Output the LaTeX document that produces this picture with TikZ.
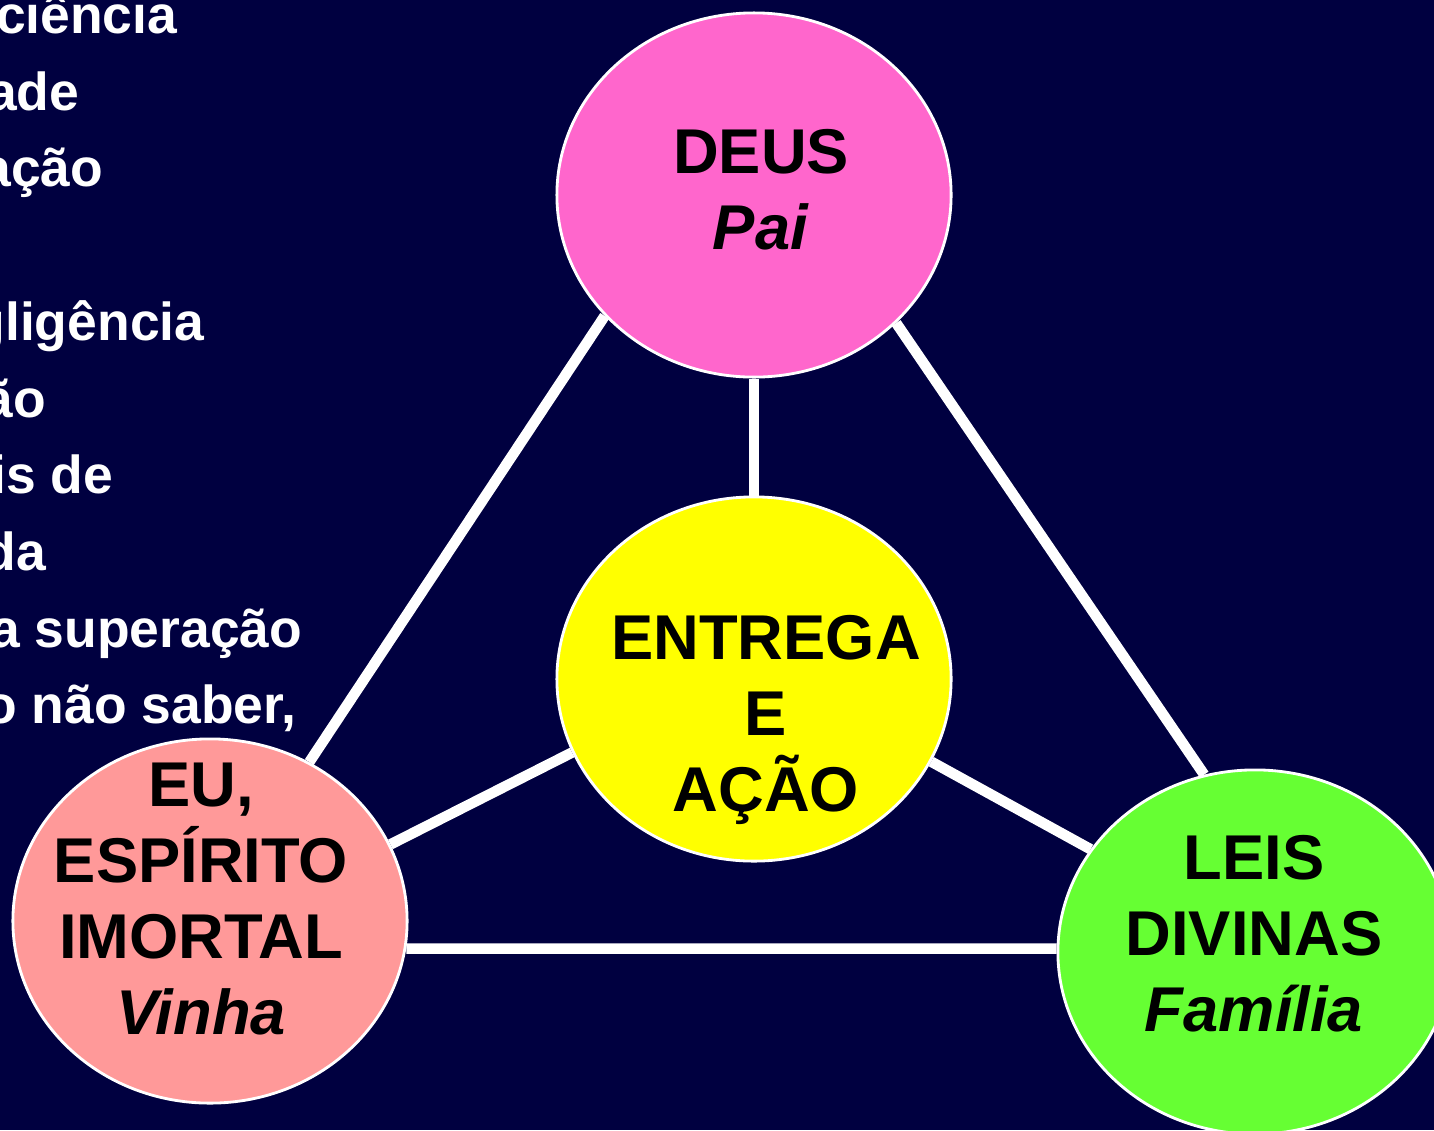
\documentclass[tikz,border=0pt]{standalone}
\usepackage{fontspec}
\setmainfont{Liberation Sans}
\usetikzlibrary{shapes.geometric,backgrounds}

\definecolor{navy}{RGB}{0,0,64}
\definecolor{deuspink}{RGB}{255,102,204}
\definecolor{acaoyellow}{RGB}{255,255,0}
\definecolor{eusalmon}{RGB}{255,153,153}
\definecolor{leisgreen}{RGB}{102,255,51}

\tikzset{
  bubble/.style={ellipse, draw=white, line width=0.8pt, minimum width=3.94cm,
    minimum height=3.64cm, inner sep=0pt},
  caption/.style={align=center, inner sep=0pt, anchor=north,
    font=\fontsize{18}{21.6}\selectfont\bfseries},
  sidetxt/.style={text=white, inner sep=0pt, anchor=base east,
    font=\fontsize{15.2}{18}\selectfont\bfseries},
  spoke/.style={white, line width=3pt}
}

\begin{document}
\begin{tikzpicture}[x=0.01cm, y=-0.01cm]

      \useasboundingbox (0,0) rectangle (1434,1130);
      \clip (0,0) rectangle (1434,1130);
      \begin{scope}[on background layer]
        \fill[navy] (0,0) rectangle (1434,1130);
      \end{scope}

          %%  cut-off text on the left %%
      \foreach \t/\xr/\yb [count=\i] in {ciência/178/33, ade/80/110, ação/104/186,
          gligência/205/340, ão/47/417, is de/114/493, da/47/570,
          a superação/303/647, {o não saber,}/297/723}
      { \node[sidetxt] (left\i) at (\xr,\yb) {\t};}

          %%  the four circles %%
      \node[bubble, fill=deuspink] (deus) at (754,195) {};
      \node[bubble, fill=acaoyellow] (entrega) at (754,679) {};
      \node[bubble, fill=eusalmon] (eu) at (210,921) {};
      \node[bubble, fill=leisgreen] (leis) at (1255,952) {};

      \node[caption] (deus-t) at (761,129) {DEUS\\\textit{Pai}};
      \node[caption] (entrega-t) at (766,615) {ENTREGA\\E\\AÇÃO};
      \node[caption] (eu-t) at (201,762) {EU,\\ESPÍRITO\\IMORTAL\\\textit{Vinha}};
      \node[caption] (leis-t) at (1254,835) {LEIS\\DIVINAS\\\textit{Família}};

      \begin{scope}[on background layer]
        \draw[spoke] (deus.219.4) to (eu.58.4);
        \draw[spoke] (deus.318.4) to (leis.106);
        \draw[spoke] (deus.south) to (entrega.north);
        \draw[spoke] (entrega.202.9) to (eu.23.2);
        \draw[spoke] (entrega.335) to (leis.148.5);
        \draw[spoke] (eu.-8.4) to (leis.179.4);
      \end{scope}

\end{tikzpicture}
\end{document}
